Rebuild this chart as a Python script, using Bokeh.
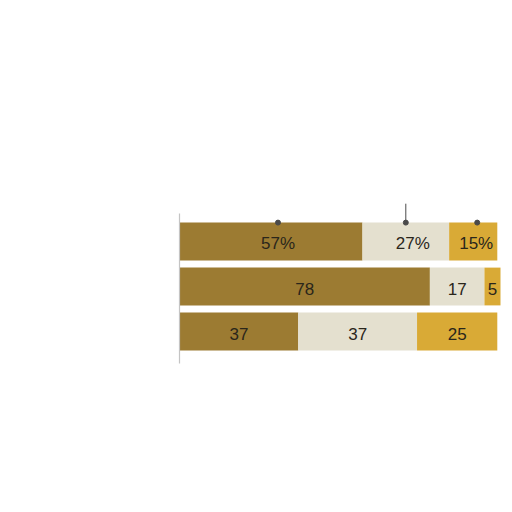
from bokeh.plotting import figure
from bokeh.models import Range1d, ColumnDataSource
from bokeh.core.properties import value
from bokeh.embed import file_html
from bokeh.resources import INLINE

# ---- data ----
rows = ["Row 1", "Row 2", "Row 3"]
first = [57, 78, 37]
second = [27, 17, 37]
third = [15, 5, 25]
suffix = ["%", "", ""]

colors = ["#9c7b32", "#e4e0cf", "#d9aa36"]
text_color = "#2a261b"

# scale: 3.21 px per unit, bars start at page x=179
px_per_unit = 3.21
W, H = 504, 504
x0_frame = 179
x_start = -x0_frame / px_per_unit
x_end = (W - x0_frame) / px_per_unit

row_px = 45.0
c0_frame = 241
y_top = -c0_frame / row_px
y_bottom = (H - c0_frame) / row_px

p = figure(width=W, height=H, output_backend="svg", toolbar_location=None,
           x_range=Range1d(x_start, x_end), y_range=Range1d(y_bottom, y_top),
           min_border=0, outline_line_color=None)
p.axis.visible = False
p.grid.visible = False
p.background_fill_color = "white"
p.border_fill_color = "white"

ys = list(range(len(rows)))
bar_h = 0.84
lefts, rights, fills, lx, ly, lt, loff = [], [], [], [], [], [], []
for i, y in enumerate(ys):
    vals = [first[i], second[i], third[i]]
    acc = 0
    for j, v in enumerate(vals):
        lefts.append(acc)
        rights.append(acc + v)
        fills.append(colors[j])
        lx.append(acc + v / 2)
        ly.append(y)
        lt.append(f"{v}{suffix[i]}")
        seg_px = v * px_per_unit
        loff.append((7 if seg_px > 60 else 3) if suffix[i] else 0)
        acc += v

src = ColumnDataSource(dict(y=[ys[k // 3] for k in range(len(lefts))],
                            left=lefts, right=rights, fill=fills))
p.hbar(y="y", left="left", right="right", height=bar_h, fill_color="fill",
       line_color=None, source=src)

lsrc = ColumnDataSource(dict(x=lx, y=ly, t=lt, off=loff))
p.text(x="x", y="y", text="t", x_offset="off", y_offset=2, source=lsrc,
       text_font=value("Liberation Sans"), text_font_size="17px",
       text_color=text_color, text_align="center", text_baseline="middle")

# baseline axis line
p.line(x=[0, 0], y=[-0.62, len(rows) - 1 + 0.71], line_color="#c4c4c4", line_width=1.2)

# marker dots on top of first bar
dot_off_px = [7, 0, 4]
top0 = ys[0] - bar_h / 2
dot_x = [lx[k] + dot_off_px[k] / px_per_unit for k in range(3)]
p.scatter(x=dot_x, y=[top0] * 3, size=5, color="#4a4a4a")
p.line(x=[dot_x[1], dot_x[1]], y=[top0, top0 - 0.42], line_color="#4a4a4a", line_width=1)

open("out.html", "w").write(file_html(p, INLINE))
